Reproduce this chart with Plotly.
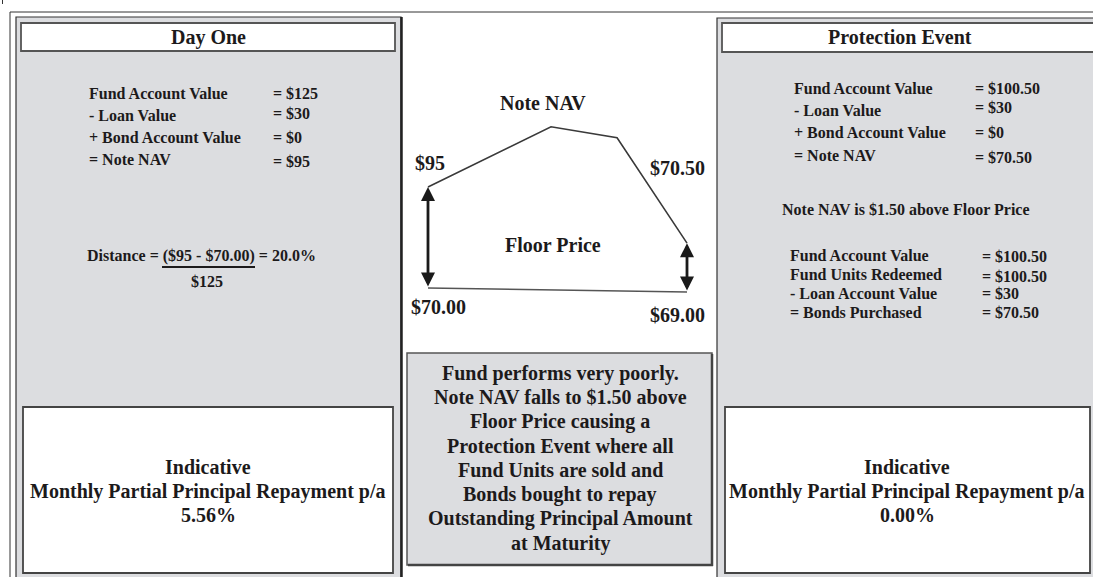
import plotly.graph_objects as go

# ---------------- data ----------------
day_one_labels = ["Fund Account Value", "- Loan Value", "+ Bond Account Value", "= Note NAV"]
day_one_values = ["= $125", "= $30", "= $0", "= $95"]

event_labels = ["Fund Account Value", "- Loan Value", "+ Bond Account Value", "= Note NAV"]
event_values = ["= $100.50", "= $30", "= $0", "= $70.50"]

redeem_labels = ["Fund Account Value", "Fund Units Redeemed", "- Loan Account Value", "= Bonds Purchased"]
redeem_values = ["= $100.50", "= $100.50", "= $30", "= $70.50"]

event_note = "Note NAV is $1.50 above Floor Price"
distance_numerator = "($95 - $70.00)"
distance_result = "20.0%"
distance_denominator = "$125"

repay_title = ["Indicative", "Monthly Partial Principal Repayment p/a"]
repay_day_one = "5.56%"
repay_event = "0.00%"

middle_text = ["Fund performs very poorly.", "Note NAV falls to $1.50 above",
               "Floor Price causing a", "Protection Event where all",
               "Fund Units are sold and", "Bonds bought to repay",
               "Outstanding Principal Amount", "at Maturity"]

# schematic diagram (time 0..1, drawn level)
nav_t = [0.0, 0.475, 0.73, 1.0]
nav_level = [95.0, 109.9, 107.2, 81.1]
floor_t = [0.0, 1.0]
floor_level = [70.0, 69.0]
point_labels = ["$95", "$70.50", "$70.00", "$69.00"]

# ---------------- styling ----------------
W, H = 1093, 577
FONT = "Liberation Serif"
INK = "#1c1a1b"
GRAY = "#dcdde0"

fig = go.Figure()

# NAV and floor lines on diagram axes
fig.add_trace(go.Scatter(x=nav_t, y=nav_level, mode="lines", xaxis="x2", yaxis="y2",
                         line=dict(color="#3a3a3a", width=1.6), hoverinfo="skip", showlegend=False))
fig.add_trace(go.Scatter(x=floor_t, y=floor_level, mode="lines", xaxis="x2", yaxis="y2",
                         line=dict(color="#555555", width=1.6), hoverinfo="skip", showlegend=False))

shapes = []
def rect(x0, y0, x1, y1, fill, color, width):
    shapes.append(dict(type="rect", xref="x", yref="y", x0=x0, y0=y0, x1=x1, y1=y1,
                       fillcolor=fill, line=dict(color=color, width=width), layer="below"))
def line(x0, y0, x1, y1, color, width, layer="below"):
    shapes.append(dict(type="line", xref="x", yref="y", x0=x0, y0=y0, x1=x1, y1=y1,
                       line=dict(color=color, width=width), layer=layer))

# outer frame
line(10, 12, 1100, 12, "#333333", 1)
line(10, 12, 10, 600, "#333333", 1)
line(2.5, 0, 2.5, 4, "#333333", 1)

# left panel
rect(16, 17, 401, 600, GRAY, "#333333", 1.2)
line(401.5, 17, 401.5, 600, "#222222", 2.5)
rect(21, 23, 395, 51, "white", "#555555", 1.8)
rect(23, 407, 393, 573, "white", "#444444", 1.8)

# right panel
rect(717, 18, 1110, 600, GRAY, "#333333", 1.2)
rect(722, 23, 1105, 52, "white", "#555555", 1.8)
rect(725, 407, 1090, 573, "white", "#444444", 1.8)

# middle box
rect(407, 353, 712, 565, GRAY, "#555555", 1.5)
line(712, 354, 712, 566, "#444444", 2.5)
line(408, 565, 713, 565, "#444444", 2.5)

# fraction bar under the distance numerator
line(162, 267, 255, 267, "#1c1a1b", 2, layer="above")

annotations = []
def txt(x, y, s, size=16, xanchor="center", xref="x", yref="y"):
    annotations.append(dict(x=x, y=y, xref=xref, yref=yref, text="<b>" + s + "</b>",
                            showarrow=False, xanchor=xanchor, yanchor="middle",
                            font=dict(family=FONT, size=size, color=INK)))

# headers
txt(208, 37, "Day One", 20)
txt(900, 37, "Protection Event", 20)

# Day One block
for lab, val, yl, yv in zip(day_one_labels, day_one_values, [93, 115, 137, 159], [93, 113, 137, 161]):
    txt(87, yl, lab, 16, "left")
    txt(271, yv, val, 16, "left")
txt(85, 256, "Distance = " + distance_numerator + " = " + distance_result, 16, "left")
txt(207, 281, distance_denominator, 16)

# Protection event block
for lab, val, yl, yv in zip(event_labels, event_values, [88, 110, 132, 155], [88, 107, 132, 157]):
    txt(792, yl, lab, 16, "left")
    txt(973, yv, val, 16, "left")
txt(906, 209, event_note, 16)
for lab, val, yl, yv in zip(redeem_labels, redeem_values, [255, 274, 293, 312], [256, 276, 293, 312]):
    txt(788, yl, lab, 16, "left")
    txt(980, yv, val, 16, "left")

# repayment boxes
for cx, pct in [(208, repay_day_one), (907, repay_event)]:
    txt(cx, 467, repay_title[0], 20)
    txt(cx, 491, repay_title[1], 20)
    txt(cx, 515, pct, 20)

# middle text
for i, s in enumerate(middle_text):
    txt(560, 373 + i * 24.3, s, 20)

# diagram labels
txt(0.444, 115.8, "Note NAV", 20, xref="x2", yref="y2")
txt(0.483, 80.6, "Floor Price", 20, xref="x2", yref="y2")
txt(0.008, 100.9, point_labels[0], 20, xref="x2", yref="y2")
txt(0.965, 99.7, point_labels[1], 20, xref="x2", yref="y2")
txt(0.039, 65.3, point_labels[2], 20, xref="x2", yref="y2")
txt(0.965, 63.3, point_labels[3], 20, xref="x2", yref="y2")

# double-headed arrows NAV <-> floor
for t_idx_nav, t_idx_floor in [(0, 0), (-1, -1)]:
    annotations.append(dict(x=nav_t[t_idx_nav], y=nav_level[t_idx_nav],
                            ax=floor_t[t_idx_floor], ay=floor_level[t_idx_floor],
                            xref="x2", yref="y2", axref="x2", ayref="y2", text="",
                            showarrow=True, arrowhead=2, startarrowhead=2, arrowside="end+start",
                            arrowsize=1.0, startarrowsize=1.0, arrowwidth=2.8, arrowcolor="#1a1a1a",
                            standoff=0, startstandoff=0))

fig.update_layout(
    width=W, height=H, autosize=False,
    margin=dict(l=0, r=0, t=0, b=0),
    paper_bgcolor="white", plot_bgcolor="rgba(0,0,0,0)",
    xaxis=dict(range=[0, W], domain=[0, 1], visible=False, fixedrange=True),
    yaxis=dict(range=[H, 0], domain=[0, 1], visible=False, fixedrange=True),
    xaxis2=dict(range=[-0.1, 1.1], domain=[402.1 / W, 712.9 / W], anchor="y2", visible=False),
    yaxis2=dict(range=[60, 120], domain=[1 - 328.4 / H, 1 - 86 / H], anchor="x2", visible=False),
    shapes=shapes, annotations=annotations, showlegend=False,
)

fig.write_html("out.html", config={"displayModeBar": False},
               post_script="document.body.style.margin='0';document.body.style.overflow='hidden';")
